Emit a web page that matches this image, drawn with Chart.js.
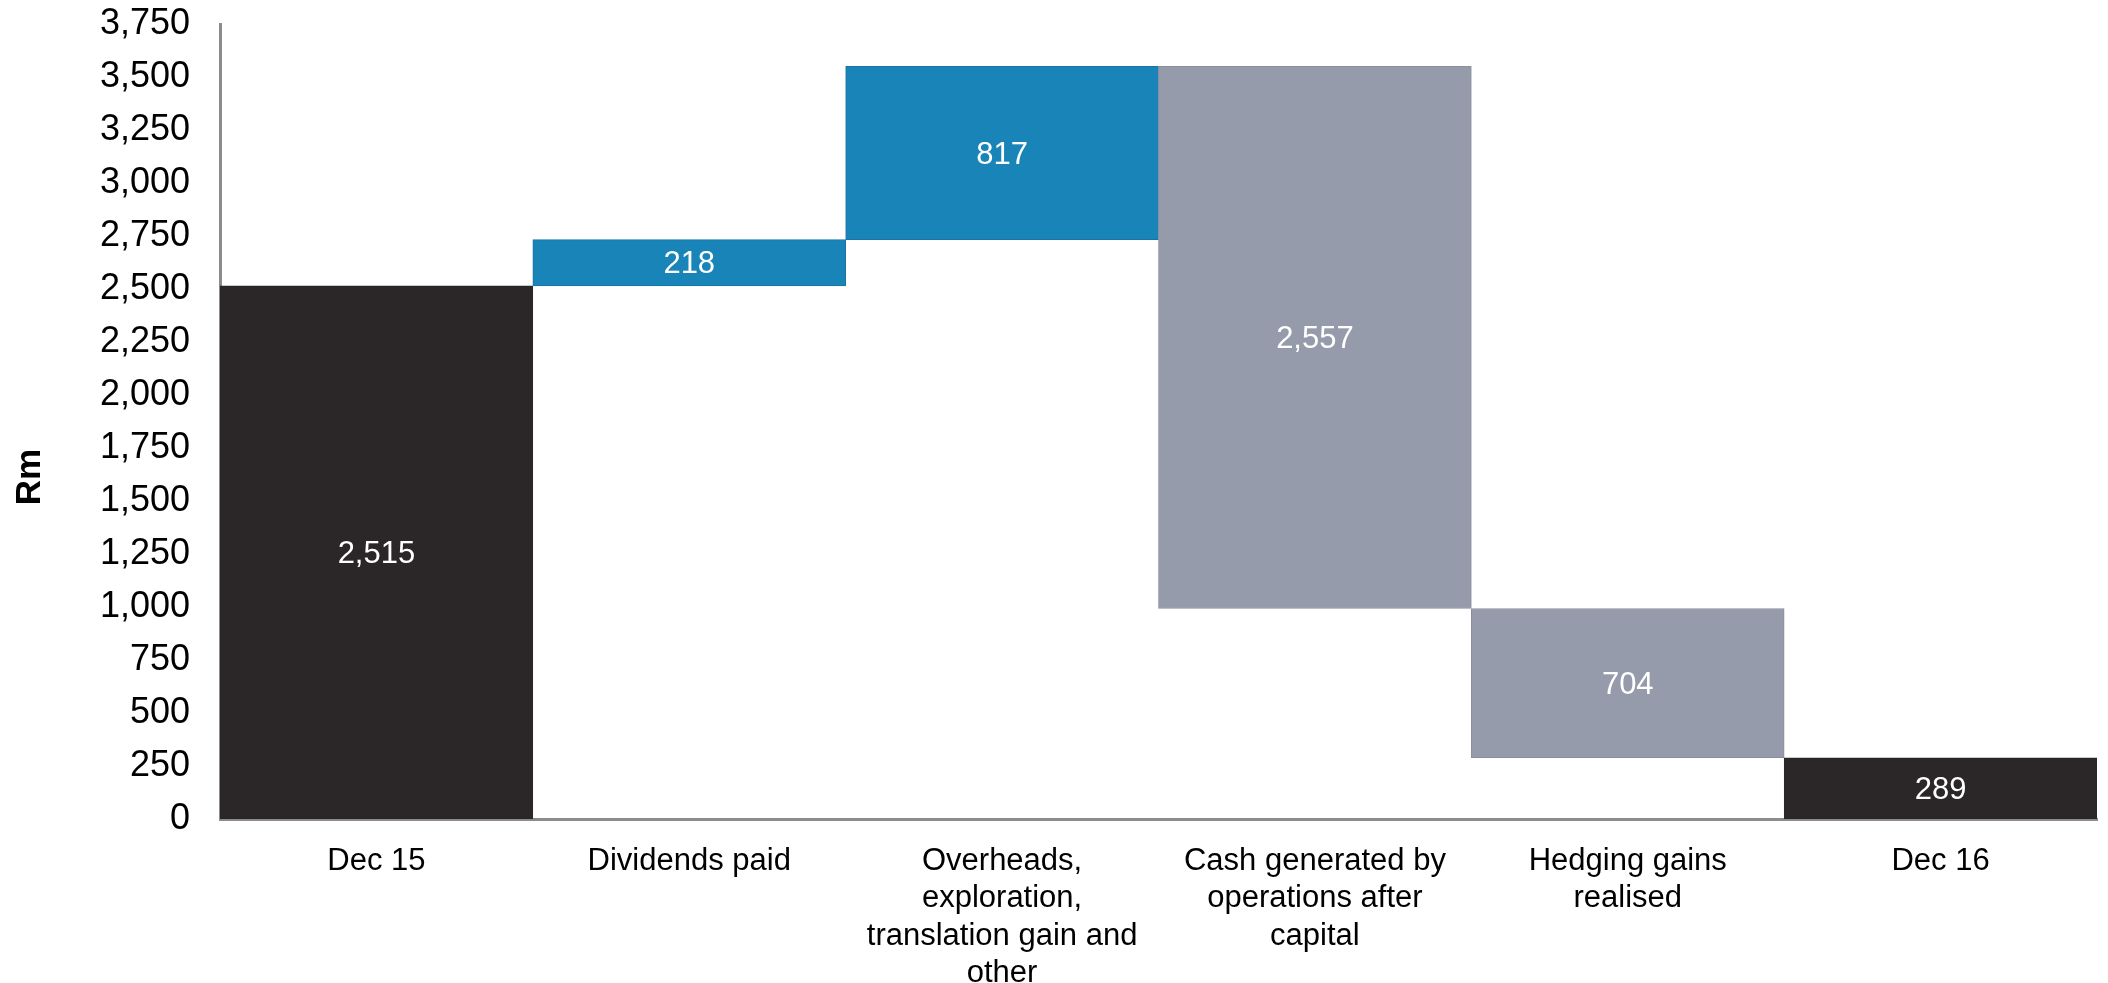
<!DOCTYPE html>
<html>
<head>
<meta charset="utf-8">
<title>Cash movement</title>
<script src="https://cdn.jsdelivr.net/npm/chart.js@4.4.1/dist/chart.umd.min.js"></script>
<style>
    html, body { margin: 0; padding: 0; background: #ffffff; }
    #wrap { width: 2108px; height: 983px; position: relative; }
</style>
</head>
<body>
<div id="wrap"><canvas id="cashChart"></canvas></div>
<script>
// Waterfall steps, Rm
const categories = [
    ['Dec 15'],
    ['Dividends paid'],
    ['Overheads,', 'exploration,', 'translation gain and', 'other'],
    ['Cash generated by', 'operations after', 'capital'],
    ['Hedging gains', 'realised'],
    ['Dec 16']
];
const changes = [2515, 218, 817, -2557, -704, 289];
const isTotal = [true, false, false, false, false, true];

const yMin = 0;
const yMax = 3750;
const yStep = 250;

const darkColour = '#2b2728';
const blueColour = '#1984b8';
const greyColour = '#959bab';

// Build floating [start, end] ranges from the running balance
let running = 0;
const ranges = changes.map((v, i) => {
    if (isTotal[i]) {
        running = v;
        return [0, v];
    }
    const start = running;
    running += v;
    return [start, running];
});

const fills = changes.map((v, i) => isTotal[i] ? darkColour : (v > 0 ? blueColour : greyColour));
const edges = changes.map((v, i) => isTotal[i] ? darkColour : (v > 0 ? '#1a74a3' : '#8a8f9b'));

// Value written in the middle of each bar
const barValueLabels = {
    id: 'barValueLabels',
    afterDatasetsDraw(chart) {
        const ctx = chart.ctx;
        const meta = chart.getDatasetMeta(0);
        ctx.save();
        ctx.font = '31px "Liberation Sans", Arial, sans-serif';
        ctx.fillStyle = '#ffffff';
        ctx.textAlign = 'center';
        ctx.textBaseline = 'middle';
        meta.data.forEach((bar, i) => {
            const mid = (bar.y + bar.base) / 2;
            ctx.fillText(Math.abs(changes[i]).toLocaleString('en-US'), bar.x, mid + 2);
        });
        ctx.restore();
    }
};

// Rotated unit label beside the value axis
const unitLabel = {
    id: 'unitLabel',
    afterDraw(chart) {
        const ctx = chart.ctx;
        ctx.save();
        ctx.translate(30, 477);
        ctx.rotate(-Math.PI / 2);
        ctx.font = 'bold 35px "Liberation Sans", Arial, sans-serif';
        ctx.fillStyle = '#000000';
        ctx.textAlign = 'center';
        ctx.textBaseline = 'middle';
        ctx.fillText('Rm', 0, 0);
        ctx.restore();
    }
};

new Chart(document.getElementById('cashChart'), {
    type: 'bar',
    data: {
        labels: categories,
        datasets: [{
            data: ranges,
            backgroundColor: fills,
            borderColor: edges,
            borderWidth: 1,
            borderSkipped: false,
            barPercentage: 1,
            categoryPercentage: 1
        }]
    },
    options: {
        responsive: true,
        maintainAspectRatio: false,
        animation: false,
        layout: {
            padding: { top: 0, right: 11, bottom: 0, left: 0 }
        },
        plugins: {
            legend: { display: false },
            tooltip: { enabled: false },
            title: { display: false }
        },
        scales: {
            x: {
                grid: { display: false },
                border: { display: true, color: '#8c8c8c', width: 3 },
                ticks: {
                    color: '#000000',
                    font: { family: '"Liberation Sans", Arial, sans-serif', size: 31, lineHeight: 1.2 },
                    padding: 16,
                    maxRotation: 0,
                    autoSkip: false
                },
                afterFit: scale => { scale.height = 164; }
            },
            y: {
                min: yMin,
                max: yMax,
                grid: { display: false },
                border: { display: true, color: '#8c8c8c', width: 3 },
                ticks: {
                    stepSize: yStep,
                    color: '#000000',
                    font: { family: '"Liberation Sans", Arial, sans-serif', size: 36 },
                    padding: 22
                },
                afterFit: scale => {
                    scale.width = 220;
                    scale.paddingTop = 24;
                    scale.paddingBottom = 0;
                }
            }
        }
    },
    plugins: [barValueLabels, unitLabel]
});
</script>
</body>
</html>
